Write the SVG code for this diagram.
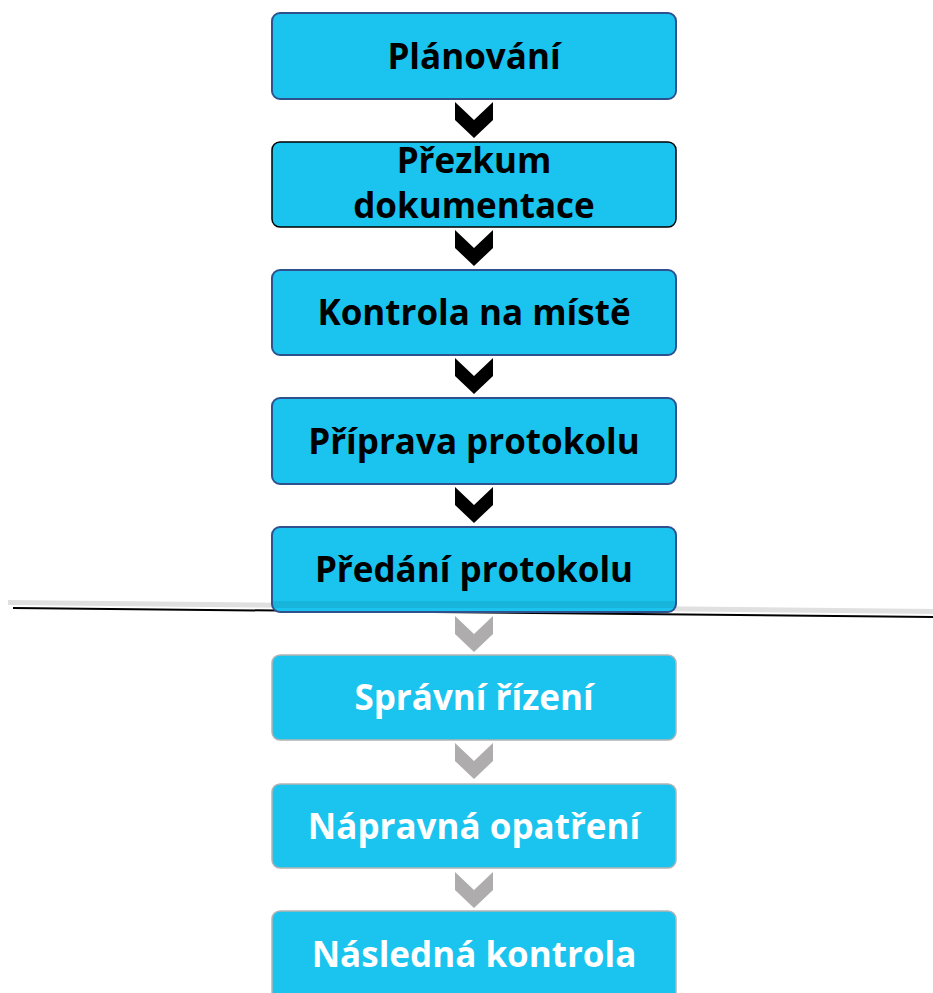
<svg xmlns="http://www.w3.org/2000/svg" xmlns:xlink="http://www.w3.org/1999/xlink" width="933" height="993" viewBox="0 0 933 993">
<style>
.box{fill:#1AC4EE;}
.top{stroke:#2F528F;stroke-width:2;}
.bot{stroke:#B4B4B4;stroke-width:1.5;}
.t{font-family:"Open Sans","Noto Sans",sans-serif;font-weight:bold;font-size:35px;text-anchor:middle;}
.dk{fill:#000;}
.wh{fill:#fff;}
</style>
<defs>
<path id="chev" d="M0,0 L19,18 L38,0 L38,18 L19,36 L0,18 Z"/>
</defs>
<rect width="933" height="993" fill="#fff"/>
<g id="connectors">
<use xlink:href="#chev" transform="translate(455,102)" fill="#000"/>
<use xlink:href="#chev" transform="translate(455,230)" fill="#000"/>
<use xlink:href="#chev" transform="translate(455,358)" fill="#000"/>
<use xlink:href="#chev" transform="translate(455,487)" fill="#000"/>
<use xlink:href="#chev" transform="translate(455,616)" fill="#AEACAC"/>
<use xlink:href="#chev" transform="translate(455,743)" fill="#AEACAC"/>
<use xlink:href="#chev" transform="translate(455,872)" fill="#AEACAC"/>
</g>
<g id="divider">
<polygon points="8,600 933,609 933,614 8,605" fill="#D8D8D8" opacity="0.8"/>
<line x1="13" y1="608" x2="933" y2="617" stroke="#000" stroke-width="2"/>
</g>
<g id="n1"><rect class="box top" x="272" y="13" width="404" height="86" rx="8"/><text class="t dk" x="474" y="69">Plánování</text></g>
<g id="n2"><rect class="box" stroke="#000" stroke-width="1.5" x="272" y="142" width="404" height="85" rx="8"/><text class="t dk" x="474" y="173">Přezkum</text><text class="t dk" x="474" y="218">dokumentace</text></g>
<g id="n3"><rect class="box top" x="272" y="270" width="404" height="85" rx="8"/><text class="t dk" x="474" y="325">Kontrola na místě</text></g>
<g id="n4"><rect class="box top" x="272" y="398" width="404" height="86" rx="8"/><text class="t dk" x="474" y="454">Příprava protokolu</text></g>
<g id="n5"><rect class="box top" x="272" y="527" width="404" height="85" rx="8"/><rect x="273" y="601" width="402" height="7" fill="#000" opacity="0.08"/><text class="t dk" x="474" y="582">Předání protokolu</text></g>
<g id="n6"><rect class="box bot" x="272" y="655" width="404" height="85" rx="8"/><text class="t wh" x="474" y="710">Správní řízení</text></g>
<g id="n7"><rect class="box bot" x="272" y="784" width="404" height="84" rx="8"/><text class="t wh" x="474" y="839">Nápravná opatření</text></g>
<g id="n8"><rect class="box bot" x="272" y="911" width="404" height="90" rx="8"/><text class="t wh" x="474" y="967">Následná kontrola</text></g>
</svg>
